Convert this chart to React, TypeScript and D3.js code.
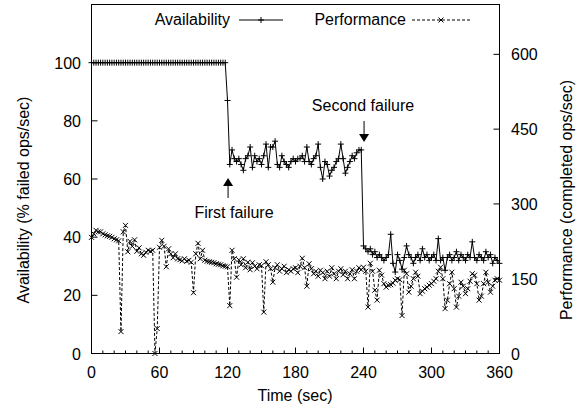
import React from 'react';
import * as d3 from 'd3';

// Sample times (sec)
const TIMES: number[] = [
  0, 2, 4, 6, 8, 10, 12, 14, 16, 18,
  20, 22, 24, 26, 28, 30, 32, 34, 36, 38,
  40, 42, 44, 46, 48, 50, 52, 54, 56, 58,
  60, 62, 64, 66, 68, 70, 72, 74, 76, 78,
  80, 82, 84, 86, 88, 90, 92, 94, 96, 98,
  100, 102, 104, 106, 108, 110, 112, 114, 116, 118,
  120, 122, 124, 126, 128, 130, 132, 134, 136, 138,
  140, 142, 144, 146, 148, 150, 152, 154, 156, 158,
  160, 162, 164, 166, 168, 170, 172, 174, 176, 178,
  180, 182, 184, 186, 188, 190, 192, 194, 196, 198,
  200, 202, 204, 206, 208, 210, 212, 214, 216, 218,
  220, 222, 224, 226, 228, 230, 232, 234, 236, 238,
  240, 242, 244, 246, 248, 250, 252, 254, 256, 258,
  260, 262, 264, 266, 268, 270, 272, 274, 276, 278,
  280, 282, 284, 286, 288, 290, 292, 294, 296, 298,
  300, 302, 304, 306, 308, 310, 312, 314, 316, 318,
  320, 322, 324, 326, 328, 330, 332, 334, 336, 338,
  340, 342, 344, 346, 348, 350, 352, 354, 356, 358,
  360,
];

// Availability (% failed ops/sec axis)
const AVAILABILITY: number[] = [
  100, 100, 100, 100, 100, 100, 100, 100, 100, 100,
  100, 100, 100, 100, 100, 100, 100, 100, 100, 100,
  100, 100, 100, 100, 100, 100, 100, 100, 100, 100,
  100, 100, 100, 100, 100, 100, 100, 100, 100, 100,
  100, 100, 100, 100, 100, 100, 100, 100, 100, 100,
  100, 100, 100, 100, 100, 100, 100, 100, 100, 100,
  87, 65, 70, 67, 66, 67, 65, 63, 67, 68,
  71, 64, 68, 66, 67, 65, 68, 72, 64, 71,
  71, 73, 65, 64, 68, 66, 65, 64, 66, 67,
  66, 67, 67, 68, 66, 71, 66, 65, 67, 68,
  72, 64, 60, 66, 65, 61, 63, 64, 66, 67,
  72, 67, 62, 64, 66, 68, 67, 69, 70, 70,
  37, 36, 35, 36, 34, 35, 33, 34, 33, 32,
  33, 34, 41, 31, 28, 34, 32, 29, 33, 37,
  34, 33, 31, 33, 34, 32, 36, 33, 34, 32,
  33, 34, 32, 39.5, 32, 33, 28.6, 33, 34, 32,
  33, 35, 32, 34, 33, 32, 34, 33, 38.4, 33,
  32, 34, 33, 32, 35, 33, 34, 31, 33, 32,
  31,
];

// Performance (completed ops/sec)
const PERFORMANCE: number[] = [
  233, 240, 247, 244, 244, 240, 238, 236, 235, 233,
  230, 228, 226, 44, 244, 257, 204, 225, 215, 228,
  205, 212, 200, 197, 203, 207, 205, 207, 0, 50,
  213, 227, 215, 174, 210, 200, 192, 200, 190, 188,
  186, 190, 185, 187, 183, 122, 200, 221, 190, 207,
  187, 185, 184, 183, 182, 180, 179, 178, 176, 175,
  174, 96, 207, 190, 153, 188, 178, 190, 172, 183,
  168, 182, 175, 170, 178, 176, 83, 184, 178, 170,
  143, 172, 178, 165, 170, 175, 162, 168, 165, 170,
  172, 162, 175, 191, 172, 135, 180, 170, 160, 165,
  155, 167, 162, 150, 165, 155, 172, 160, 150, 165,
  170, 158, 165, 150, 160, 168, 150, 165, 172, 168,
  173, 165, 93, 181, 165, 127, 107, 167, 157, 140,
  133, 137, 138, 141, 147, 150, 148, 76, 167, 160,
  123, 135, 150, 163, 155, 120, 125, 130, 133, 137,
  140, 145, 150, 165, 173, 150, 90, 107, 140, 163,
  130, 93, 115, 143, 135, 120, 130, 145, 160, 157,
  140, 107, 115, 140, 163, 143, 123, 135, 147, 150,
  147,
];

const X_TICKS = [0, 60, 120, 180, 240, 300, 360];
const X_MINOR = [10, 20, 30, 40, 50, 70, 80, 90, 100, 110, 130, 140, 150, 160, 170, 190, 200, 210, 220, 230, 250, 260, 270, 280, 290, 310, 320, 330, 340, 350];
const YA_TICKS = [0, 20, 40, 60, 80, 100];
const YP_TICKS = [0, 150, 300, 450, 600];

const FONT = '"Liberation Sans", Arial, Helvetica, sans-serif';
const FS = 16;

export default function App() {
  const W = 585, H = 409;
  const L = 91.5, R = 499.5, T = 4.5, B = 353.5;
  const x = d3.scaleLinear().domain([0, 360]).range([L, R]);
  const yA = d3.scaleLinear().domain([0, 120]).range([B, T]);
  const yP = d3.scaleLinear().domain([0, 700]).range([B, T]);

  const availPts = TIMES.map((t, i) => [x(t), yA(AVAILABILITY[i])] as [number, number]);
  const perfPts = TIMES.map((t, i) => [x(t), yP(PERFORMANCE[i])] as [number, number]);
  const line = d3.line();

  const plus = (cx: number, cy: number, k: string) => (
    <path key={k} d={`M${cx - 3},${cy}H${cx + 3}M${cx},${cy - 3}V${cy + 3}`} stroke="#000" strokeWidth={1} fill="none" />
  );
  const cross = (cx: number, cy: number, k: string) => (
    <path key={k} d={`M${cx - 2.5},${cy - 2.5}L${cx + 2.5},${cy + 2.5}M${cx - 2.5},${cy + 2.5}L${cx + 2.5},${cy - 2.5}`} stroke="#000" strokeWidth={1} fill="none" />
  );

  const arrow1X = x(120.5);
  const arrow2X = x(240.5);

  return (
    <svg width={W} height={H} style={{ position: 'absolute', left: 0, top: 0, display: 'block', background: '#fff' }} fontFamily={FONT} fontSize={FS}>
      <rect x={0} y={0} width={W} height={H} fill="#fff" />
      {/* frame */}
      <rect x={L} y={T} width={R - L} height={B - T} fill="none" stroke="#000" strokeWidth={1} />
      {/* x ticks */}
      {X_TICKS.map(t => (
        <g key={'xt' + t}>
          <line x1={x(t)} x2={x(t)} y1={B} y2={B - 6} stroke="#000" />
          <text x={x(t)} y={378} textAnchor="middle">{t}</text>
        </g>
      ))}
      {X_MINOR.map(t => (
        <line key={'xm' + t} x1={x(t)} x2={x(t)} y1={B} y2={B - 3} stroke="#000" />
      ))}
      {/* left ticks */}
      {YA_TICKS.map(v => (
        <g key={'ya' + v}>
          <line x1={L} x2={L + 6} y1={yA(v)} y2={yA(v)} stroke="#000" />
          <text x={81} y={yA(v) + 6} textAnchor="end">{v}</text>
        </g>
      ))}
      {/* right ticks */}
      {YP_TICKS.map(v => (
        <g key={'yp' + v}>
          <line x1={R} x2={R - 6} y1={yP(v)} y2={yP(v)} stroke="#000" />
          <text x={511} y={yP(v) + 6} textAnchor="start">{v}</text>
        </g>
      ))}
      {/* axis titles */}
      <text x={295} y={401} textAnchor="middle">Time (sec)</text>
      <text transform={`translate(29,200) rotate(-90)`} textAnchor="middle">Availability (% failed ops/sec)</text>
      <text transform={`translate(572,200) rotate(-90)`} textAnchor="middle">Performance (completed ops/sec)</text>

      {/* availability */}
      <path d={line(availPts) || ''} fill="none" stroke="#000" strokeWidth={1} />
      {availPts.map((p, i) => plus(p[0], p[1], 'a' + i))}
      {/* performance */}
      <path d={line(perfPts) || ''} fill="none" stroke="#000" strokeWidth={1} strokeDasharray="3,2" />
      {perfPts.map((p, i) => cross(p[0], p[1], 'p' + i))}

      {/* legend */}
      <text x={230} y={25} textAnchor="end">Availability</text>
      <line x1={239} x2={283} y1={20} y2={20} stroke="#000" />
      {plus(261, 20, 'la')}
      <text x={406} y={25} textAnchor="end">Performance</text>
      <line x1={412} x2={470} y1={20} y2={20} stroke="#000" strokeDasharray="3,2" />
      {cross(441, 20, 'lp')}

      {/* annotations */}
      <text x={234} y={218} textAnchor="middle">First failure</text>
      <line x1={arrow1X} x2={arrow1X} y1={198} y2={184} stroke="#000" />
      <path d={`M${arrow1X},178 L${arrow1X - 5},186 L${arrow1X + 5},186 Z`} fill="#000" />
      <text x={363} y={111} textAnchor="middle">Second failure</text>
      <line x1={arrow2X} x2={arrow2X} y1={121} y2={136} stroke="#000" />
      <path d={`M${arrow2X},142 L${arrow2X - 5},134 L${arrow2X + 5},134 Z`} fill="#000" />
    </svg>
  );
}
